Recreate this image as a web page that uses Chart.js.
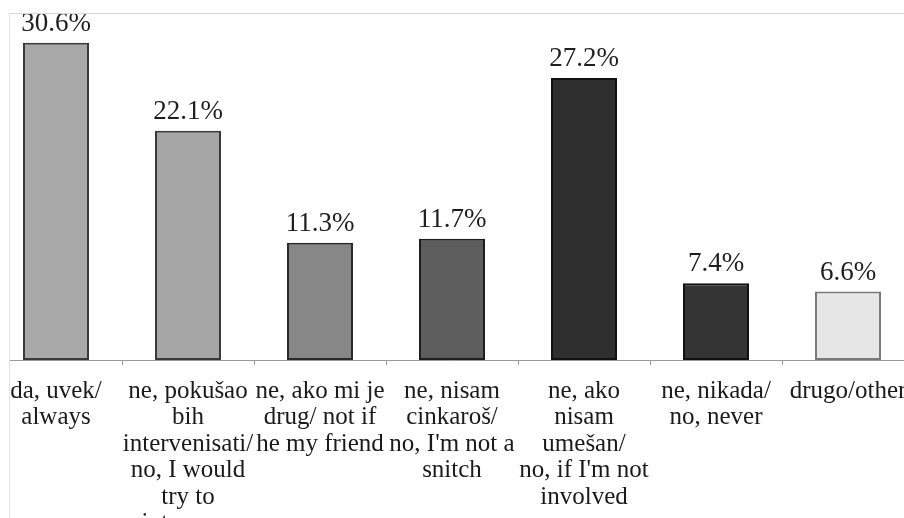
<!DOCTYPE html>
<html>
<head>
<meta charset="utf-8">
<script src="https://cdn.jsdelivr.net/npm/chart.js@4.4.1/dist/chart.umd.min.js"></script>
<style>
    html, body { margin: 0; padding: 0; background: #fff; overflow: hidden; }
    body { width: 904px; height: 518px; position: relative; }
    #wrap { position: absolute; left: -10px; top: -3px; width: 924px; height: 603px; }
    #mask { position: absolute; left: 0; top: 350px; width: 9px; height: 20px; background: #fff; z-index: 2; }
    #frame { position: absolute; left: 9px; top: 13px; right: 0; bottom: 0; z-index: 3;
             border-top: 1px solid #d8d8d8; border-left: 1px solid #e2e2e2; pointer-events: none; }
</style>
</head>
<body>
<div id="wrap"><canvas id="chart"></canvas></div>
<div id="mask"></div>
<div id="frame"></div>
<script>
const categories = [
    ['da, uvek/', 'always'],
    ['ne, pokušao', 'bih', 'intervenisati/', 'no, I would', 'try to', 'intervene'],
    ['ne, ako mi je', 'drug/ not if', 'he my friend'],
    ['ne, nisam', 'cinkaroš/', "no, I'm not a", 'snitch'],
    ['ne, ako', 'nisam', 'umešan/', "no, if I'm not", 'involved'],
    ['ne, nikada/', 'no, never'],
    ['drugo/other']
];
const percentages = [30.6, 22.1, 11.3, 11.7, 27.2, 7.4, 6.6];
const barColors = ['#a9a9a9', '#a6a6a6', '#878787', '#5d5d5d', '#2f2f2f', '#343434', '#e6e6e6'];
const edgeColors = ['#3a3a3a', '#3a3a3a', '#2a2a2a', '#1e1e1e', '#111111', '#111111', '#7a7a7a'];

// value labels above the bars
const valueLabels = {
    id: 'valueLabels',
    afterDatasetsDraw(chart) {
        const ctx = chart.ctx;
        const meta = chart.getDatasetMeta(0);
        ctx.save();
        ctx.font = '27px "Liberation Serif", "DejaVu Serif", serif';
        ctx.fillStyle = '#1e1e1e';
        ctx.textAlign = 'center';
        ctx.textBaseline = 'alphabetic';
        meta.data.forEach((bar, i) => {
            ctx.fillText(percentages[i].toFixed(1) + '%', bar.x, bar.y - 12);
        });
        ctx.restore();
    }
};

const ctx = document.getElementById('chart').getContext('2d');
new Chart(ctx, {
    type: 'bar',
    data: {
        labels: categories,
        datasets: [{
            data: percentages,
            backgroundColor: barColors,
            borderColor: edgeColors,
            borderWidth: 2,
            borderSkipped: false,
            barPercentage: 1,
            categoryPercentage: 0.5
        }]
    },
    options: {
        responsive: true,
        maintainAspectRatio: false,
        animation: false,
        layout: { padding: 0 },
        plugins: {
            legend: { display: false },
            tooltip: { enabled: false }
        },
        scales: {
            y: {
                display: false,
                min: 0,
                max: 35
            },
            x: {
                afterFit: (scale) => {
                    scale.height = 240;
                    scale.paddingLeft = 0;
                    scale.paddingRight = 0;
                },
                grid: {
                    display: true,
                    drawOnChartArea: false,
                    drawTicks: true,
                    tickLength: 5,
                    color: '#9a9a9a'
                },
                border: { display: true, color: '#9a9a9a', width: 1 },
                ticks: {
                    autoSkip: false,
                    maxRotation: 0,
                    minRotation: 0,
                    padding: 13,
                    color: '#1a1a1a',
                    font: { family: '"Liberation Serif", "DejaVu Serif", serif', size: 25, lineHeight: '26.5px' }
                }
            }
        }
    },
    plugins: [valueLabels]
});
</script>
</body>
</html>
